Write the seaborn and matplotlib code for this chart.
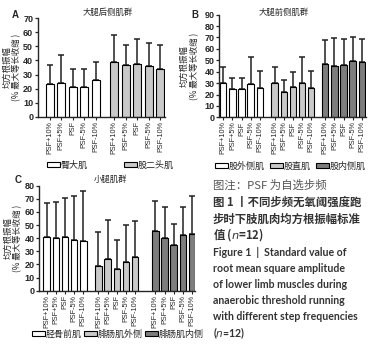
import pandas as pd
import matplotlib.pyplot as plt
from matplotlib.patches import Patch
import seaborn as sns
import numpy as np

sns.set_style("ticks")
plt.rcParams['font.family'] = ['Liberation Sans', 'Noto Sans CJK SC']
cjk = ['Noto Sans CJK SC', 'DejaVu Sans']

# Data (mean and top of error bar)
conditions = ["PSF+10%", "PSF+5%", "PSF", "PSF-5%", "PSF-10%"]

# A: 大腿后侧肌群
a_muscles = ["臀大肌", "股二头肌"]
a_glute_mean = [23.2, 24.1, 21.0, 21.0, 26.2]
a_glute_top = [37.0, 44.0, 34.2, 34.2, 39.0]
a_biceps_mean = [38.6, 36.8, 37.2, 35.8, 34.0]
a_biceps_top = [58.0, 51.0, 54.8, 52.5, 50.6]

# B: 大腿前侧肌群
b_muscles = ["股外侧肌", "股直肌", "股内侧肌"]
b_vl_mean = [29.8, 25.1, 24.6, 29.5, 25.7]
b_vl_top = [44.4, 34.8, 34.8, 53.2, 41.0]
b_rf_mean = [29.8, 22.5, 26.3, 29.8, 25.7]
b_rf_top = [44.4, 32.7, 39.8, 53.2, 41.0]
b_vm_mean = [46.8, 45.3, 45.6, 49.1, 48.8]
b_vm_top = [67.8, 69.3, 68.4, 70.2, 69.0]

# C: 小腿肌群
c_muscles = ["胫骨前肌", "腓肠肌外侧", "腓肠肌内侧"]
c_ta_mean = [41.0, 40.4, 40.9, 38.6, 38.1]
c_ta_top = [67.0, 67.3, 70.5, 71.8, 76.0]
c_lg_mean = [19.2, 24.2, 16.2, 21.8, 26.0]
c_lg_top = [44.8, 53.7, 38.9, 50.4, 53.2]
c_mg_mean = [45.2, 40.4, 34.6, 42.1, 43.1]
c_mg_top = [68.3, 64.0, 50.5, 64.0, 72.0]

colors = ['white', '#c9c9c9', '#7d7d7d']


def build_df(muscles, means, tops, gaps):
    rows = []
    offset = 0.0
    for g, (m, mean, top) in enumerate(zip(muscles, means, tops)):
        if g > 0:
            offset += 5 + gaps[g - 1]
        for i, cond in enumerate(conditions):
            rows.append({'pos': offset + i, 'value': mean[i],
                         'err': top[i] - mean[i], 'muscle': m, 'cond': cond})
    return pd.DataFrame(rows)


def draw_panel(rect, df, muscles, ymax, xlim, title, title_xy, ylabel_x,
               legend_xy, colspacing):
    ax = fig.add_axes(rect)
    pal = dict(zip(muscles, colors[:len(muscles)]))
    sns.barplot(data=df, x='pos', y='value', hue='muscle', palette=pal,
                native_scale=True, dodge=False, width=0.7, errorbar=None,
                edgecolor='black', linewidth=0.8, legend=False, ax=ax)
    ax.errorbar(df['pos'], df['value'], yerr=[np.zeros(len(df)), df['err']],
                fmt='none', ecolor='#222222', elinewidth=1.1, capsize=2,
                capthick=1.1, zorder=0.5)
    ax.set_xlim(*xlim)
    ax.set_ylim(0, ymax)
    ax.set_yticks(np.arange(0, ymax + 1, 10))
    ax.set_xticks(df['pos'])
    ax.set_xticklabels(df['cond'], rotation=90, fontsize=5.2)
    ax.tick_params(axis='y', labelsize=6.5, length=2.5, width=0.9, pad=1)
    ax.tick_params(axis='x', length=2, width=0.8, pad=1)
    for t in ax.get_yticklabels():
        t.set_fontweight('bold')
    for s in ['top', 'right']:
        ax.spines[s].set_visible(False)
    for s in ['left', 'bottom']:
        ax.spines[s].set_linewidth(1.0)
    ax.set_xlabel('')
    ax.set_ylabel("均方根振幅\n(% 最大等长收缩 )", fontsize=6, family=cjk,
                  linespacing=1.1)
    ax.yaxis.set_label_coords(ylabel_x, 0.5)
    ax.text(title_xy[0], title_xy[1], title, transform=ax.transAxes,
            ha='center', va='center', fontsize=6, family=cjk)
    handles = [Patch(facecolor=pal[m], edgecolor='black', linewidth=0.8,
                     label=m) for m in muscles]
    leg = ax.legend(handles=handles, loc='center left', ncol=len(muscles),
                    bbox_to_anchor=legend_xy, bbox_transform=fig.transFigure,
                    frameon=False, prop={'family': cjk, 'size': 6.5},
                    handlelength=1.45, handleheight=0.6, handletextpad=0.1,
                    columnspacing=colspacing, borderpad=0, borderaxespad=0)
    return ax


W, H = 381, 350
fig = plt.figure(figsize=(W / 100, H / 100), dpi=100)

df_a = build_df(a_muscles, [a_glute_mean, a_biceps_mean],
                [a_glute_top, a_biceps_top], [0.6])
df_b = build_df(b_muscles, [b_vl_mean, b_rf_mean, b_vm_mean],
                [b_vl_top, b_rf_top, b_vm_top], [0.64, 0.56])
df_c = build_df(c_muscles, [c_ta_mean, c_lg_mean, c_mg_mean],
                [c_ta_top, c_lg_top, c_mg_top], [0.64, 1.2])

draw_panel([38 / W, 1 - 117 / H, 127 / W, 99 / H], df_a, a_muscles, 70,
           (-1.0, 10.0), "大腿后侧肌群", (0.55, 1.054), -0.13,
           (47 / W, 1 - 165 / H), 4.0)
draw_panel([219.3 / W, 1 - 117.3 / H, 146.7 / W, 102.6 / H], df_b, b_muscles,
           90, (-0.44, 15.67), "大腿前侧肌群", (0.44, 1.02), -0.14,
           (215 / W, 1 - 166 / H), 0.55)
draw_panel([39.3 / W, 1 - 290.7 / H, 155.7 / W, 105 / H], df_c, c_muscles, 80,
           (-0.8, 16.16), "小腿肌群", (0.454, 1.061), -0.11,
           (32 / W, 1 - 334 / H), 0.2)

for letter, x, y in [("A", 15, 15), ("B", 195, 15), ("C", 18, 180)]:
    fig.text(x / W, 1 - y / H, letter, fontsize=7, fontweight='bold',
             ha='center', va='center')

# Caption
cap_x = 213 / W
fig.text(cap_x, 1 - 185 / H, "图注：PSF 为自选步频", fontsize=8.2, family=cjk,
         color='#555555', va='center')
cn_lines = ["图 1 丨不同步频无氧阈强度跑", "步时下肢肌肉均方根振幅标准", "值 ($\\it{n}$=12)"]
for line, y in zip(cn_lines, [202, 219, 235]):
    fig.text(cap_x, 1 - y / H, line, fontsize=8.2, family=cjk,
             fontweight='bold', color='#333333', va='center')
en_lines = ["Figure 1  |  Standard value of", "root mean square amplitude",
            "of lower limb muscles during", "anaerobic threshold running",
            "with different step frequencies", "($\\it{n}$=12)"]
for line, y in zip(en_lines, [252, 268, 284, 300, 317, 333]):
    fig.text(cap_x, 1 - y / H, line, fontsize=7.6, family=['Lato'],
             fontweight='bold', color='#333333', va='center')

fig.savefig("out.png", dpi=100)
